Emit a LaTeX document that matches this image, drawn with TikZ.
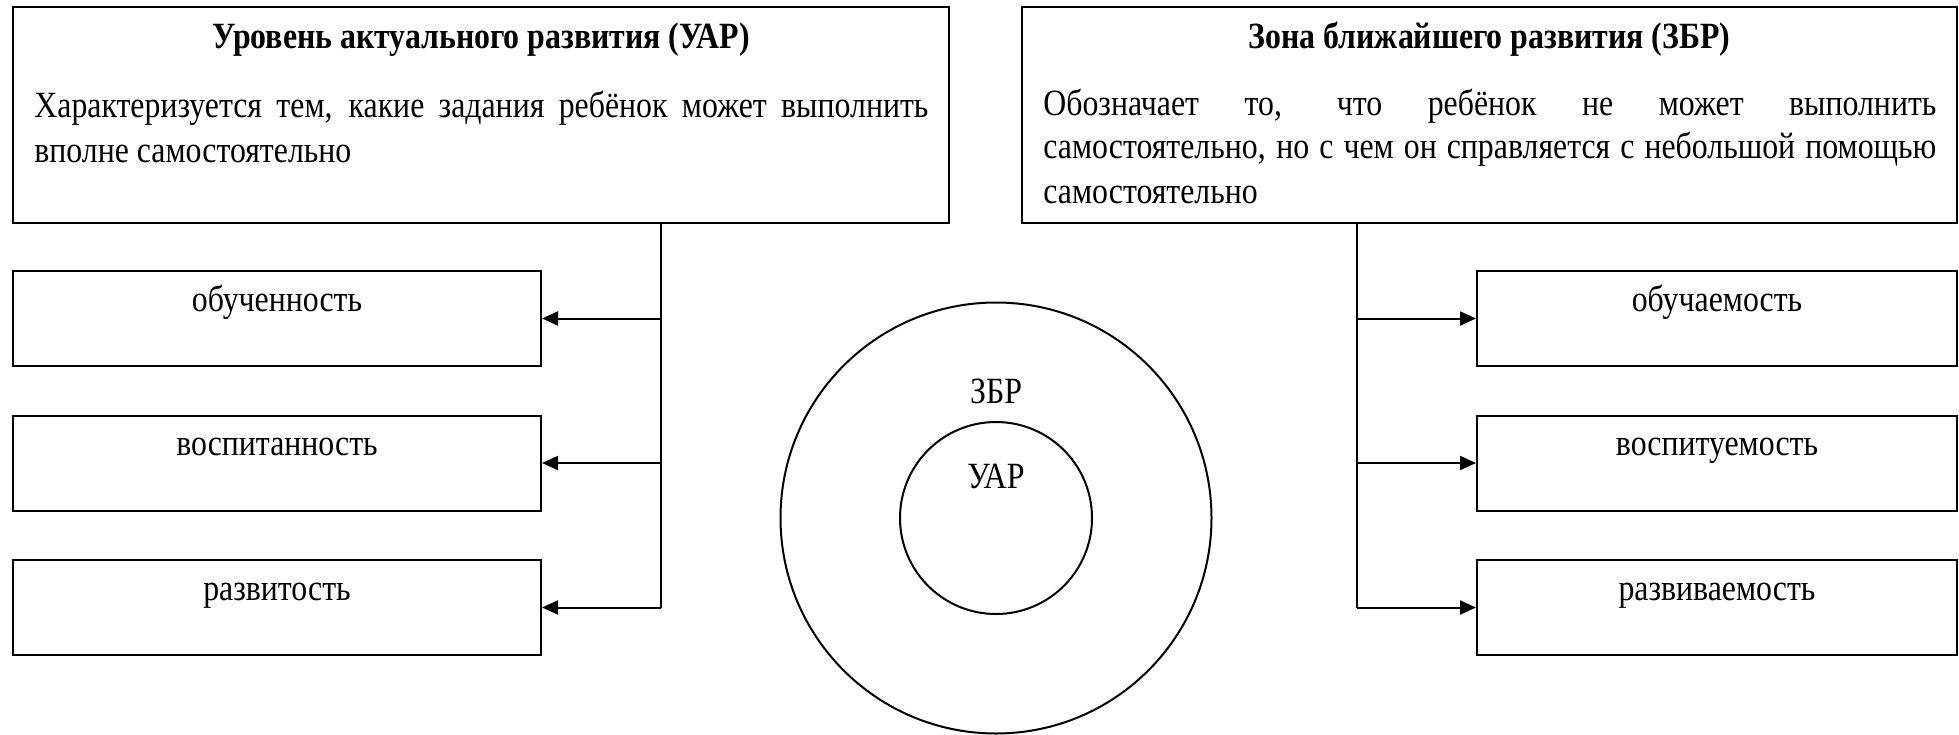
\documentclass[tikz,border=0pt]{standalone}
\usepackage{fontspec}
\setmainfont{Liberation Serif}[FakeStretch=0.86]
\usetikzlibrary{arrows.meta}
\begin{document}
\begin{tikzpicture}[x=0.5pt,y=-0.5pt,
  box/.style={draw, line width=1pt, inner sep=0pt, minimum height=#1},
  box/.default=47.5pt,
  txt/.style={inner sep=0pt, font=\fontsize{18.5pt}{22pt}\selectfont},
  ttl/.style={inner sep=0pt, font=\fontsize{18.5pt}{22pt}\selectfont\bfseries},
  conn/.style={line width=1pt},
  arr/.style={line width=1pt, -{Triangle[length=8pt,width=7pt]}},
  ring/.style={draw, circle, line width=1pt, inner sep=0pt}]
\useasboundingbox (0,0) rectangle (1959,734);
% big boxes
\node[box=108pt, minimum width=468pt] (uar) at (481,115) {};
\node[box=108pt, minimum width=467.5pt] (zbr) at (1489.5,115) {};
% titles
\node[ttl, anchor=base] (uart) at (481,48) {Уровень актуального развития (УАР)};
\node[ttl, anchor=base] (zbrt) at (1489.5,48) {Зона ближайшего развития (ЗБР)};
% body texts
\node[txt, anchor=base west] (u1) at (34,117) {\makebox[447pt][s]{Характеризуется тем, какие задания ребёнок может выполнить}};
\node[txt, anchor=base west] (u2) at (34,162) {вполне самостоятельно};
\node[txt, anchor=base west] (z1) at (1043,115) {\makebox[446.5pt][s]{Обозначает то, что ребёнок не может выполнить}};
\node[txt, anchor=base west] (z2) at (1043,158) {\makebox[446.5pt][s]{самостоятельно, но с чем он справляется с небольшой помощью}};
\node[txt, anchor=base west] (z3) at (1043,203) {самостоятельно};
% left small boxes
\node[box, minimum width=264pt] (l1) at (277,318.5) {};
\node[box, minimum width=264pt] (l2) at (277,463) {};
\node[box, minimum width=264pt] (l3) at (277,607.5) {};
\node[txt, anchor=base] (l1t) at ([yshift=-20.5pt]l1.north) {обученность};
\node[txt, anchor=base] (l2t) at ([yshift=-20.5pt]l2.north) {воспитанность};
\node[txt, anchor=base] (l3t) at ([yshift=-20.5pt]l3.north) {развитость};
% right small boxes
\node[box, minimum width=240pt] (r1) at (1717,318.5) {};
\node[box, minimum width=240pt] (r2) at (1717,463) {};
\node[box, minimum width=240pt] (r3) at (1717,607.5) {};
\node[txt, anchor=base] (r1t) at ([yshift=-20.5pt]r1.north) {обучаемость};
\node[txt, anchor=base] (r2t) at ([yshift=-20.5pt]r2.north) {воспитуемость};
\node[txt, anchor=base] (r3t) at ([yshift=-20.5pt]r3.north) {развиваемость};
% connectors
\coordinate (lx) at (661,0);
\coordinate (rx) at (1357,0);
\draw[conn] (uar.south -| lx) -- (l3.east -| lx);
\draw[arr] (l1.east -| lx) -- (l1.east);
\draw[arr] (l2.east -| lx) -- (l2.east);
\draw[arr] (l3.east -| lx) -- (l3.east);
\draw[conn] (zbr.south -| rx) -- (r3.west -| rx);
\draw[arr] (r1.west -| rx) -- (r1.west);
\draw[arr] (r2.west -| rx) -- (r2.west);
\draw[arr] (r3.west -| rx) -- (r3.west);
% circles
\node[ring, minimum size=215.5pt] (outer) at (996,518) {};
\node[ring, minimum size=96pt] (inner) at (996,518) {};
\node[txt, anchor=base] (zl) at (996,403) {ЗБР};
\node[txt, anchor=base] (ul) at (996,488) {УАР};
\end{tikzpicture}
\end{document}
